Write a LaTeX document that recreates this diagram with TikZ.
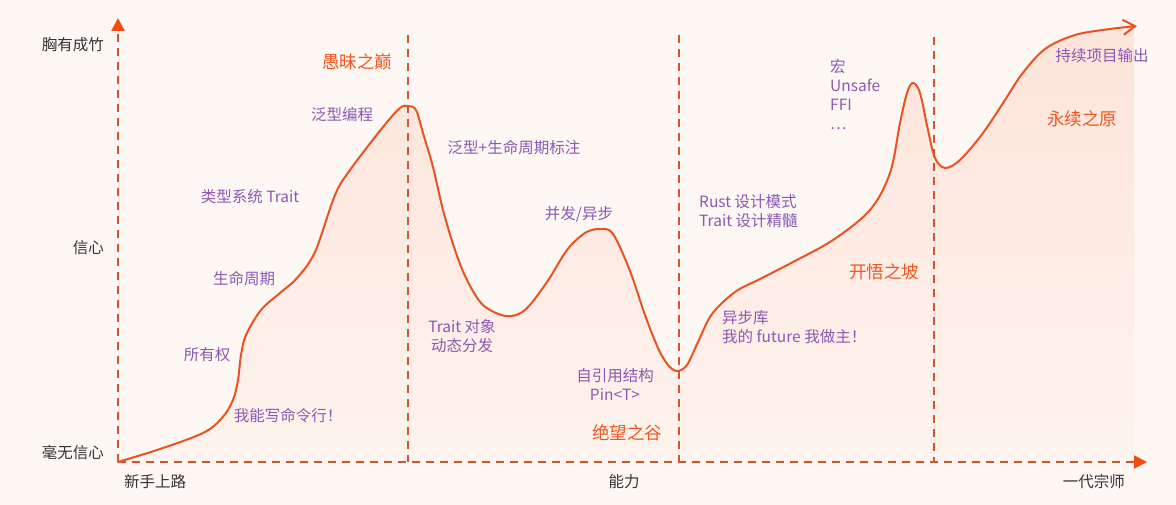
\documentclass[tikz,border=0pt]{standalone}
\usepackage{fontspec}
\setmainfont{Noto Sans CJK SC}
\usetikzlibrary{arrows.meta}

\definecolor{bgpink}{HTML}{FEF8F5}
\definecolor{filltop}{HTML}{FDE4DA}
\definecolor{fillbot}{HTML}{FEF3EE}
\definecolor{curvered}{HTML}{EA5320}
\definecolor{dashbrown}{HTML}{D4552C}
\definecolor{arrowred}{HTML}{F24B14}
\definecolor{notepurple}{HTML}{8C58B2}
\definecolor{stageorange}{HTML}{F0561E}
\definecolor{axisgray}{HTML}{333333}

\tikzset{
  axisline/.style={dashbrown,line width=2.2pt,dash pattern=on 8pt off 6pt,
    -{Triangle[length=13pt,width=13pt,color=arrowred]}},
  stageline/.style={dashbrown,line width=2.2pt,dash pattern=on 8pt off 6pt},
  note/.style={text=notepurple,font=\fontsize{15.5}{19}\selectfont,inner sep=0pt},
  stage/.style={text=stageorange,font=\fontsize{17.5}{20}\selectfont,inner sep=0pt},
  axislabel/.style={text=axisgray,font=\fontsize{15.5}{18}\selectfont,inner sep=0pt}
}

\begin{document}
\begin{tikzpicture}[x=1pt,y=-1pt]
  \useasboundingbox (0,0) rectangle (1176,505);
  \fill[bgpink] (0,0) rectangle (1176,505);

  \coordinate (O) at (118,462);
  \coordinate (Ytop) at (118,18);
  \coordinate (Xend) at (1147,462);

  % 曲线下方的填充
  \begin{scope}
    \clip (118,0) rectangle (1134,462);
    \clip plot[smooth,tension=0.55] coordinates {
      (118,462) (160,449) (203,433) (222,418) (233,400) (238,380) (241,355)
      (246,335) (261,310) (280,293) (297,278) (315,252) (335,195) (350,170)
      (383,127) (400,108) (408,106) (416,110) (423,133) (433,167) (443,210)
      (455,250) (467,280) (483,305) (506,316) (525,310) (547,282) (567,250)
      (585,233) (600,229) (613,234) (630,271) (645,315) (658,348) (668,365)
      (677,371) (687,365) (698,342) (712,314) (735,292) (760,279) (793,262)
      (833,240) (870,210) (890,173) (900,123) (907,93) (913,83) (920,93)
      (928,130) (935,158) (945,168) (960,160) (983,133) (1005,100) (1022,74)
      (1045,49) (1075,35) (1110,29) (1137,26)}
      -- (1137,462) -- (O) -- cycle;
    \shade[top color=filltop,bottom color=fillbot] (118,20) rectangle (1137,462);
  \end{scope}

  % 阶段分隔虚线
  \coordinate (P1) at (408,35);
  \coordinate (P2) at (679,35);
  \coordinate (P3) at (934,37);
  \draw[stageline] (P1) -- (P1 |- O);
  \draw[stageline] (P2) -- (P2 |- O);
  \draw[stageline] (P3) -- (P3 |- O);

  % 坐标轴
  \draw[axisline] (O) -- (Ytop);
  \draw[axisline] (O) -- (Xend);

  % 信心曲线
  \draw[curvered,line width=2pt,line cap=round,
        -{Straight Barb[length=12pt,width=15pt]}]
    plot[smooth,tension=0.55] coordinates {
      (118,462) (160,449) (203,433) (222,418) (233,400) (238,380) (241,355)
      (246,335) (261,310) (280,293) (297,278) (315,252) (335,195) (350,170)
      (383,127) (400,108) (408,106) (416,110) (423,133) (433,167) (443,210)
      (455,250) (467,280) (483,305) (506,316) (525,310) (547,282) (567,250)
      (585,233) (600,229) (613,234) (630,271) (645,315) (658,348) (668,365)
      (677,371) (687,365) (698,342) (712,314) (735,292) (760,279) (793,262)
      (833,240) (870,210) (890,173) (900,123) (907,93) (913,83) (920,93)
      (928,130) (935,158) (945,168) (960,160) (983,133) (1005,100) (1022,74)
      (1045,49) (1075,35) (1110,29) (1137,26)};

  % 坐标轴标注
  \node[axislabel,anchor=east] (ymax) at (104,45) {胸有成竹};
  \node[axislabel,anchor=east] (ymid) at (104,248) {信心};
  \node[axislabel,anchor=east] (ymin) at (104,453) {毫无信心};
  \node[axislabel,anchor=west] (xmin) at (124,482) {新手上路};
  \node[axislabel] (xmid) at (624,482) {能力};
  \node[axislabel,anchor=east] (xmax) at (1125,482) {一代宗师};

  % 阶段名称
  \node[stage] (peak) at (357,62) {愚昧之巅};
  \node[stage] (valley) at (627,433) {绝望之谷};
  \node[stage] (slope) at (884,272) {开悟之坡};
  \node[stage] (plateau) at (1082,119) {永续之原};

  % 学习内容
  \node[note] (cli) at (288,416) {我能写命令行！};
  \node[note] (own) at (207,355) {所有权};
  \node[note] (life) at (244,279) {生命周期};
  \node[note] (typesys) at (250,197) {类型系统 Trait};
  \node[note] (generic) at (342,115) {泛型编程};
  \node[note] (genlife) at (514,148) {泛型+生命周期标注};
  \node[note,align=center] (dyn) at (462,336) {Trait 对象\\动态分发};
  \node[note] (async) at (579,214) {并发/异步};
  \node[note,align=center] (pin) at (615,384) {自引用结构\\Pin<T>};
  \node[note,align=left,anchor=west] (asynclib) at (722,327) {异步库\\我的 future 我做主！};
  \node[note,align=left,anchor=west] (design) at (699,211) {Rust 设计模式\\Trait 设计精髓};
  \node[note,align=left,anchor=north west] (macro) at (830,59) {宏\\Unsafe\\FFI\\…};
  \node[note] (output) at (1102,56) {持续项目输出};
\end{tikzpicture}
\end{document}
